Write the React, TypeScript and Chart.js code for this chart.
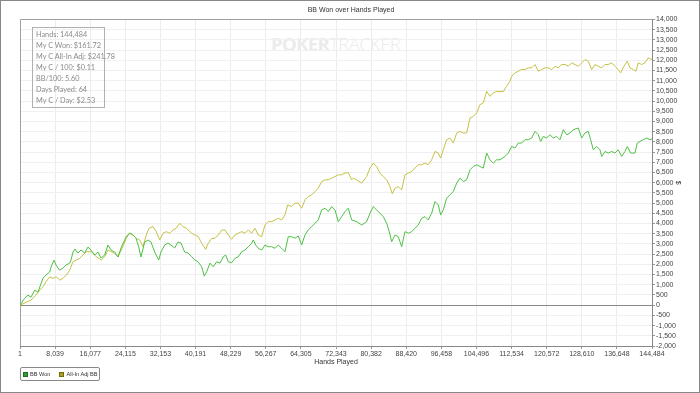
import React, { useEffect, useRef } from 'react';
import { Chart, registerables } from 'chart.js';
Chart.register(...registerables);

const chartTitle = 'BB Won over Hands Played';
const xTickLabels = ['1','8,039','16,077','24,115','32,153','40,191','48,229','56,267','64,305','72,343','80,382','88,420','96,458','104,496','112,534','120,572','128,610','136,648','144,484'];
const statLines = ['Hands: 144,484','My C Won: $161.72','My C All-In Adj: $241.78','My C / 100: $0.11','BB/100: 5.60','Days Played: 64','My C / Day: $2.53'];
const seriesNames = ['BB Won', 'All-In Adj BB'];

const bbWonHands = [1,1074,1829,2515,3360,4115,5258,5944,6789,7087,7772,8230,9075,9830,10516,11361,11659,12116,12573,13259,13945,14790,15545,16231,17076,17831,18517,19362,20117,20803,21648,22403,23089,24232,25077,25832,26518,27135,27661,28506,29261,29947,30792,31707,32233,33078,33833,34519,35364,36119,36805,37650,38405,39250,40005,40691,41536,42131,42680,43434,44188,44966,45720,46474,47023,47617,48395,49149,49903,50681,51435,52189,52967,53332,53881,54475,55253,56007,56761,57538,58293,59047,59824,60579,61333,62110,62865,63619,64397,65151,65905,66683,67437,68191,68969,69723,70477,71255,72009,72763,73541,74295,75049,75826,76971,78114,79257,80010,80764,81542,82296,83050,83828,84422,84971,85725,86479,87257,88011,88765,89543,90297,91051,91829,92583,93337,94115,94869,95623,96172,96766,97544,98298,99052,99829,100584,101338,102115,102870,103624,104401,105156,105910,106688,107442,108196,108974,109728,110871,111625,112403,113157,113911,114689,115443,116197,116975,117729,118483,119032,119626,120404,121158,121912,122690,123444,124198,124976,125730,126484,127627,128405,129159,129913,130462,131056,131834,132588,132977,133731,134485,135263,136017,136771,137549,138303,138829,139606,140589,141115,141732,142486,143264,144018,144484];
const bbWonValues = [0,344,491,393,737,639,1326,1474,1621,1867,2210,1965,1719,1817,1965,2063,2210,2603,2751,2554,2702,2554,2849,2702,2456,2603,2309,2456,2947,2702,2603,2358,2800,3340,3537,3438,3291,2849,2358,3095,3193,3095,2603,2210,2603,2947,3045,2947,2800,3095,3045,2603,2554,2372,2210,2127,1881,1424,1636,2063,1881,2127,2063,2372,2456,2127,2078,2294,2372,2618,2702,2864,3031,3193,2947,2785,2702,2947,2864,2864,2785,2947,2785,2618,3355,3355,3276,3389,2947,3438,3684,3846,4013,4175,4666,4750,4583,4829,4666,4092,4337,4583,4750,4175,4092,3930,4092,4504,4829,4666,4504,4337,4013,3601,3109,3438,3355,2864,3601,3522,3601,3768,3930,4259,4337,4175,4504,5074,4912,4421,4666,5241,5403,5565,5978,6224,6057,6140,6631,6793,6877,6793,6715,7452,7122,6960,7122,7122,7285,7452,7776,7697,7943,7943,8105,8105,8188,8513,8350,8021,8267,8188,8350,8188,8267,8105,8596,8350,8434,8596,8680,8188,8434,8513,8105,7614,7776,7614,7285,7530,7452,7530,7452,7614,7285,7530,7776,7452,7452,7943,8021,8105,8188,8105,8139];

const allInHands = [1,2515,3658,4503,5258,5944,6789,7544,8298,9075,9830,10584,11361,12116,12870,13647,14402,15156,16299,17442,18585,19362,20117,20871,21648,22403,23157,24300,25077,25832,26586,27363,28118,28872,29489,30404,31158,31935,32690,33444,34221,34976,35730,36507,37262,38016,39250,40005,40759,41536,42451,43045,43823,44577,45331,46109,46863,47617,48395,49149,49903,50681,51435,52189,52967,53721,54475,55253,56007,56761,57538,58293,59047,59824,60579,61196,62110,62865,63619,64397,65151,65905,66683,67437,68191,68969,69723,70477,71255,72009,72763,73541,74295,75049,75826,76192,76971,78114,79257,80010,80764,81542,82296,83050,83828,84582,85108,85725,86479,87257,88011,88765,89543,90297,91051,91829,92583,93337,94115,94869,95623,96172,96766,97544,98298,99052,99829,100584,101338,102115,102870,103624,104401,105156,105910,106688,107442,108196,108974,109728,110482,111260,112014,112403,113157,113911,114689,115443,116197,116975,117729,118483,119261,120015,120769,121546,122301,123055,123833,124587,125341,126118,126873,127627,128405,129159,129913,130691,131445,132199,132977,133731,134485,135263,136017,136771,137320,138074,138829,139446,140200,140818,141344,142121,142875,143630,144484];
const allInValues = [0,246,491,737,899,1144,1390,1312,1390,1228,1312,1474,1719,2127,2210,2294,2456,2618,2618,2372,2210,2372,2702,2618,2540,2372,2702,3276,3522,3438,3276,3193,2864,3438,3768,3846,3601,3193,3522,3601,3522,3684,3768,4013,3846,3768,3522,3438,3355,3031,2736,3031,3276,3276,3438,3684,3684,3438,3227,3438,3522,3601,3522,3684,3522,3768,3438,3355,3930,4092,4092,4175,4259,4175,4421,4912,4829,4996,4996,4750,5158,5320,5403,5565,5732,6057,6140,6140,6224,6302,6386,6386,6469,6499,6140,6224,6140,5978,6302,6715,6960,6793,6469,6302,6140,5811,5452,5732,5811,5649,6386,6469,6548,6715,6877,6877,6960,6877,7122,7530,7452,7206,7614,8105,8188,7943,8434,8513,8434,8434,9171,9249,9416,9824,9907,10477,10232,10399,10477,10462,10477,10723,10968,11214,11381,11460,11543,11543,11627,11627,11789,11460,11543,11627,11627,11543,11706,11627,11789,11789,11706,11873,11789,11706,11873,12034,11951,11543,11789,11706,11627,11789,11789,11873,11706,11543,11381,11706,11951,11627,11543,11460,11873,11789,11873,12118,12034];

const GREEN = 'rgb(78,192,68)';
const OLIVE = 'rgb(198,192,70)';
const FONT = '"Liberation Sans", Arial, sans-serif';

export default function App() {
  const ref = useRef<HTMLCanvasElement>(null);
  useEffect(() => {
    document.body.style.margin = '0';
    const framePlugin = {
      id: 'frame',
      beforeDatasetsDraw(chart: any) {
        const { ctx, chartArea: a } = chart;
        ctx.save();
        ctx.strokeStyle = '#a0a0a0';
        ctx.lineWidth = 1;
        ctx.beginPath();
        ctx.moveTo(Math.round(a.left) + 0.5, Math.round(a.bottom));
        ctx.lineTo(Math.round(a.left) + 0.5, Math.round(a.top) + 0.5);
        ctx.lineTo(Math.round(a.right), Math.round(a.top) + 0.5);
        ctx.stroke();
        ctx.restore();
      },
    };
    const chart = new Chart(ref.current as HTMLCanvasElement, {
      type: 'line',
      data: {
        datasets: [
          {
            label: seriesNames[0],
            data: bbWonHands.map((h, i) => ({ x: h, y: bbWonValues[i] })),
            borderColor: GREEN,
            borderWidth: 1,
            pointRadius: 0,
            tension: 0,
          },
          {
            label: seriesNames[1],
            data: allInHands.map((h, i) => ({ x: h, y: allInValues[i] })),
            borderColor: OLIVE,
            borderWidth: 1,
            pointRadius: 0,
            tension: 0,
          },
        ],
      },
      options: {
        responsive: false,
        animation: false,
        layout: { padding: { left: 20, right: 18, top: 0, bottom: 27 } },
        plugins: {
          legend: { display: false },
          tooltip: { enabled: false },
          title: {
            display: true,
            text: chartTitle,
            font: { size: 7, family: FONT, weight: 'normal' },
            color: '#333',
            padding: { top: 6, bottom: 5 },
          },
        },
        scales: {
          x: {
            type: 'linear',
            min: 1,
            max: 144484,
            afterBuildTicks: (s: any) => {
              s.ticks = xTickLabels.map((_, i) => ({ value: 1 + (i * 144483) / 18 }));
            },
            afterFit: (s: any) => { s.height = 20; },
            ticks: {
              autoSkip: false,
              maxRotation: 0,
              callback: (_v: any, i: number) => xTickLabels[i],
              font: { size: 7, family: FONT },
              color: '#444',
              padding: 1,
            },
            grid: { color: '#ececec', tickLength: 3, tickColor: '#999' },
            border: { color: '#888' },
            title: {
              display: true,
              text: 'Hands Played',
              font: { size: 7, family: FONT },
              color: '#333',
              padding: { top: 0, bottom: 0 },
            },
          },
          y: {
            position: 'right',
            min: -2000,
            max: 14000,
            afterFit: (s: any) => { s.width = 30; },
            ticks: {
              stepSize: 500,
              autoSkip: false,
              callback: (v: any) => Number(v).toLocaleString('en-US'),
              font: { size: 7, family: FONT },
              color: '#444',
              padding: 1,
            },
            grid: {
              color: (c: any) => (c.tick && c.tick.value === 0 ? '#888' : '#f0f0f0'),
              tickLength: 3,
              tickColor: '#999',
            },
            border: { color: '#888' },
            title: {
              display: true,
              text: '$',
              font: { size: 7, family: FONT },
              color: '#333',
              padding: 0,
            },
          },
        },
      },
      plugins: [framePlugin],
    } as any);
    return () => chart.destroy();
  }, []);

  const sq = (bg: string, bd: string, ml: number) => ({
    display: 'inline-block', width: 5, height: 5, flexShrink: 0, background: bg,
    boxShadow: `inset 0 0 0 1px ${bd}`, marginLeft: ml, marginRight: 2,
  } as React.CSSProperties);

  return (
    <div style={{ position: 'relative', width: 700, height: 393, background: '#fff', overflow: 'hidden', fontFamily: FONT }}>
      <div style={{ position: 'absolute', left: 271, top: 31, fontSize: 18.5, color: '#ebebeb', whiteSpace: 'nowrap', fontFamily: '"Open Sans", sans-serif', letterSpacing: -0.6 }}>
        <span style={{ fontWeight: 700 }}>POKER</span>
        <span style={{ fontWeight: 300 }}>TRACKER</span>
      </div>
      <canvas ref={ref} width={700} height={393} style={{ position: 'absolute', left: 0, top: 0, width: 700, height: 393 }} />
      <div style={{ position: 'absolute', left: 32, top: 27, width: 73, height: 81, border: '1px solid #b0b0b0', padding: '1px 0 0 3px', boxSizing: 'border-box' }}>
        {statLines.map((t) => (
          <div key={t} style={{ fontSize: 7.3, lineHeight: '11px', color: '#8a8a8a', whiteSpace: 'nowrap', fontFamily: 'Lato, sans-serif' }}>{t}</div>
        ))}
      </div>
      <div style={{ position: 'absolute', left: 20, top: 367, width: 80, height: 14, border: '1px solid #888', borderRadius: 2, boxSizing: 'border-box', display: 'flex', alignItems: 'center', fontSize: 5.6, color: '#333', whiteSpace: 'nowrap' }}>
        <span style={sq('#2f9e2f', '#1d6d1d', 2)} />
        <span>{seriesNames[0]}</span>
        <span style={sq('#aaa21e', '#6f6a10', 9)} />
        <span>{seriesNames[1]}</span>
      </div>
      <div style={{ position: 'absolute', left: 0, top: 0, width: 700, height: 393, border: '1px solid #888', boxSizing: 'border-box', pointerEvents: 'none' }} />
    </div>
  );
}
